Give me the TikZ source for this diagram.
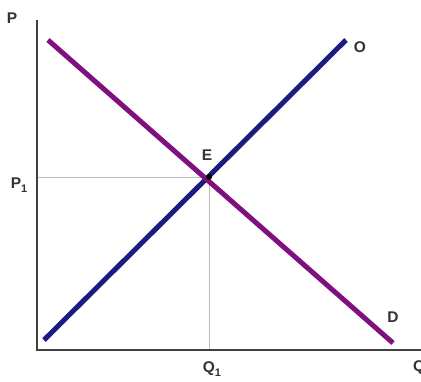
\documentclass[tikz,border=0pt]{standalone}
\usepackage{fontspec}
\setmainfont{Liberation Sans}
\definecolor{supplyc}{RGB}{28,28,128}
\definecolor{demandc}{RGB}{128,16,128}
\newcommand{\subone}{\raisebox{-0.45ex}{\fontsize{11}{12}\selectfont\bfseries 1}}
\begin{document}
\begin{tikzpicture}[x=1pt,y=-1pt,
  lbl/.style={font=\bfseries\fontsize{15.5}{17}\selectfont, text=black!80, inner sep=0pt},
  axis/.style={draw=black!75, line width=1.4pt},
  guide/.style={draw=black!25, line width=0.6pt},
  curve/.style={line width=5pt}]
\useasboundingbox (0,0) rectangle (421,381);
\fill[white] (0,0) rectangle (421,381);
\coordinate (orig) at (37,350);
\coordinate (ytop) at (37,20);
\coordinate (xend) at (425,350);
\coordinate (E) at (209,177);
\coordinate (p1) at (37,177);
\coordinate (q1) at (209,350);
\coordinate (s0) at (44,340);
\coordinate (s1) at (346,40);
\coordinate (d0) at (48,40);
\coordinate (d1) at (393,343);
\draw[guide] (p1) -- (E) -- (q1);
\draw[axis] (ytop) -- (orig) -- (xend);
\draw[curve, supplyc] (s0) -- (s1);
\draw[curve, demandc] (d0) -- (d1);
\fill[black] (E) circle (3pt);
\node[lbl] (P) at (12,18) {P};
\node[lbl] (P1) at (19,185) {P\subone};
\node[lbl] (El) at (207,155) {E};
\node[lbl] (Q1) at (212,369) {Q\subone};
\node[lbl] (O) at (360,47) {O};
\node[lbl] (D) at (393,317) {D};
\node[lbl, anchor=west] (Q) at (413,368) {Q};
\end{tikzpicture}
\end{document}
